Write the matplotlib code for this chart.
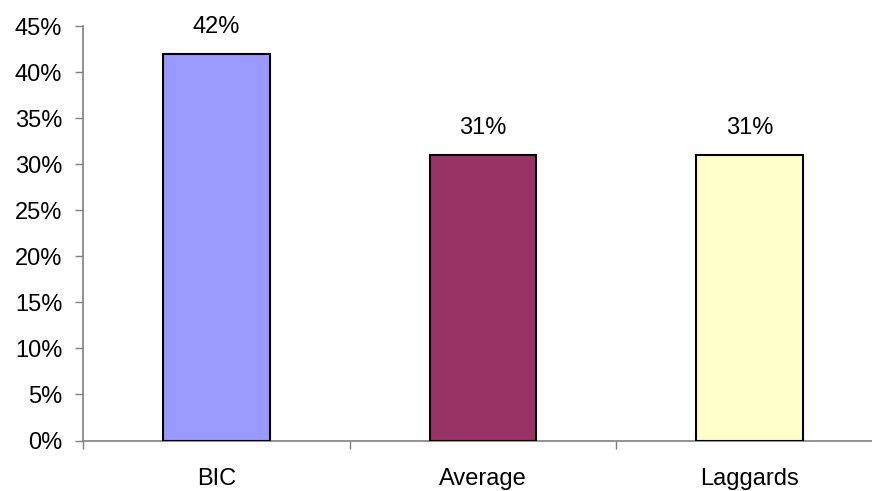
import matplotlib
matplotlib.use('Agg')
import matplotlib.pyplot as plt
from matplotlib.ticker import FuncFormatter

plt.rcParams['font.family'] = ['Liberation Sans', 'DejaVu Sans']

# 数据
categories = ['BIC', 'Average', 'Laggards']
values = [0.42, 0.31, 0.31]
colors = ['#9999FF', '#993366', '#FFFFCC']

fs = 17

fig = plt.figure(figsize=(8.72, 4.91), dpi=100)
ax = fig.add_axes([83 / 872, 50.5 / 491, 800 / 872, 414.2 / 491])

x = range(len(categories))
bars = ax.bar(x, values, width=0.4, color=colors, edgecolor='black', linewidth=1.5, zorder=3)

# 柱顶数值标签
for xi, v in zip(x, values):
    ax.annotate('%d%%' % round(v * 100), xy=(xi, v), xytext=(0, 15),
                textcoords='offset points', ha='center', va='baseline', fontsize=fs)

ax.set_xlim(-0.5, 2.5)
ax.set_ylim(0, 0.45)
ax.set_yticks([i * 0.05 for i in range(10)])
ax.yaxis.set_major_formatter(FuncFormatter(lambda v, p: '%d%%' % round(v * 100)))

# 分类刻度在类别之间，标签在类别中央
ax.set_xticks([-0.5, 0.5, 1.5, 2.5])
ax.set_xticklabels([])
ax.set_xticks(list(x), minor=True)
ax.set_xticklabels(categories, minor=True)
ax.tick_params(axis='x', which='minor', length=0, pad=19.5, labelsize=fs)
ax.tick_params(axis='x', which='major', length=6, width=1, color='#808080', direction='out')
ax.tick_params(axis='y', length=6, width=1, color='#808080', direction='out', pad=9, labelsize=fs)

for side in ['top', 'right']:
    ax.spines[side].set_visible(False)
for side in ['left', 'bottom']:
    ax.spines[side].set_color('#808080')
    ax.spines[side].set_linewidth(1.2)

fig.savefig('out.png', dpi=100)
